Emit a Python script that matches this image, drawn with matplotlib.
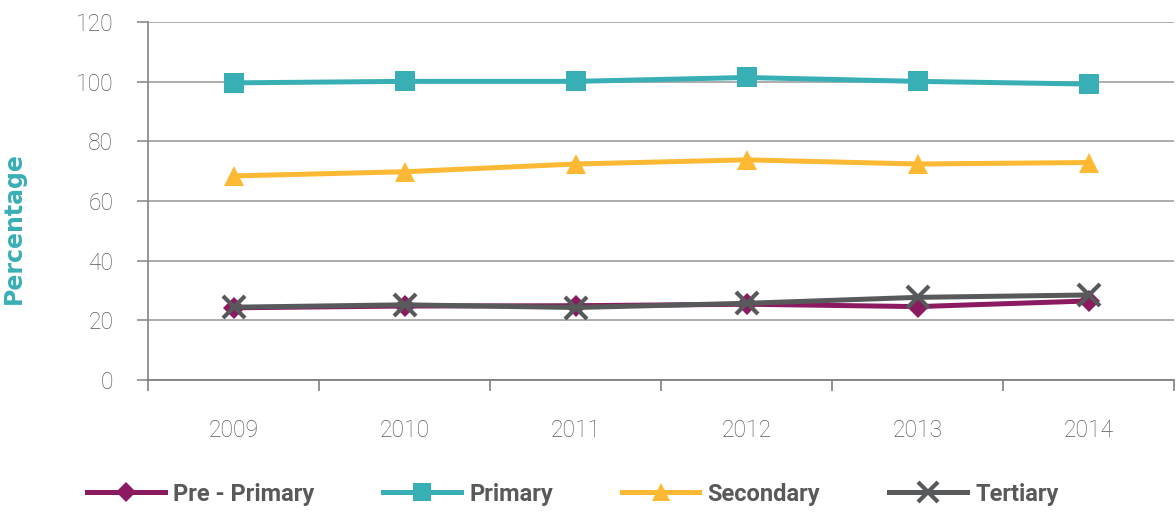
import matplotlib.pyplot as plt
import numpy as np

years = ['2009', '2010', '2011', '2012', '2013', '2014']
pre_primary = [24.2, 24.8, 24.9, 25.4, 24.6, 26.5]
primary = [99.6, 100.1, 100.1, 101.4, 100.1, 99.2]
secondary = [68.4, 69.8, 72.4, 73.8, 72.4, 72.9]
tertiary = [24.4, 25.2, 24.3, 25.7, 27.7, 28.5]

names = ['Pre - Primary', 'Primary', 'Secondary', 'Tertiary']
colors = ['#8B1A60', '#38AFB5', '#FDB933', '#58595B']

fig = plt.figure(figsize=(11.76, 5.16), dpi=100)
ax = fig.add_axes([148 / 1176, 1 - 380 / 516, 1026 / 1176, 358 / 516])

x = np.arange(len(years)) + 0.5
series = [pre_primary, primary, secondary, tertiary]
markers = ['D', 's', '^', 'x']
msizes = [11, 15, 15, 16]
handles = []
for vals, name, c, m, ms in zip(series, names, colors, markers, msizes):
    h, = ax.plot(x, vals, color=c, lw=3.6, marker=m, markersize=ms,
                 markeredgewidth=3 if m == 'x' else 0, label=name, zorder=3,
                 solid_joinstyle='round')
    handles.append(h)
# tertiary drawn on top of pre-primary
handles[3].set_zorder(4)

ax.set_xlim(0, 6)
ax.set_ylim(0, 120)
ax.set_yticks(np.arange(0, 121, 20))
ax.grid(axis='y', color='#a6a6a6', lw=1.3)
ax.set_axisbelow(True)

ax.set_xticks(np.arange(0, 7))
ax.set_xticklabels([])
ax.set_xticks(x, minor=True)
ax.set_xticklabels(years, minor=True)
ax.tick_params(axis='x', which='major', length=8, width=1.2, color='#7f7f7f', direction='out')
ax.tick_params(axis='x', which='minor', length=0, pad=28, labelsize=16.5, labelcolor='#595959')
ax.tick_params(axis='y', length=8, width=1.2, color='#8c8c8c', pad=17, labelsize=16.5, labelcolor='#595959')
for lab in ax.get_xticklabels(minor=True) + ax.get_yticklabels():
    lab.set_family('Roboto')
    lab.set_fontweight('light')

for s in ['top', 'right']:
    ax.spines[s].set_visible(False)
ax.spines['left'].set_color('#8c8c8c')
ax.spines['left'].set_linewidth(1.3)
ax.spines['bottom'].set_color('#7f7f7f')
ax.spines['bottom'].set_linewidth(1.3)

fig.text(14 / 1176, 1 - 228 / 516, 'Percentage', rotation=90, color='#38AFB5',
         fontsize=17, fontweight='bold', ha='center', va='center')

fig.legend(handles=handles, loc='center left', bbox_to_anchor=(66 / 1176, 1 - 494 / 516),
           ncol=4, frameon=False, handlelength=3.3, columnspacing=2.9, handletextpad=0.35,
           prop={'family': 'Roboto', 'weight': 'bold', 'size': 17}, labelcolor='#595959',
           markerscale=0.9)

fig.savefig('out.png', dpi=100)
